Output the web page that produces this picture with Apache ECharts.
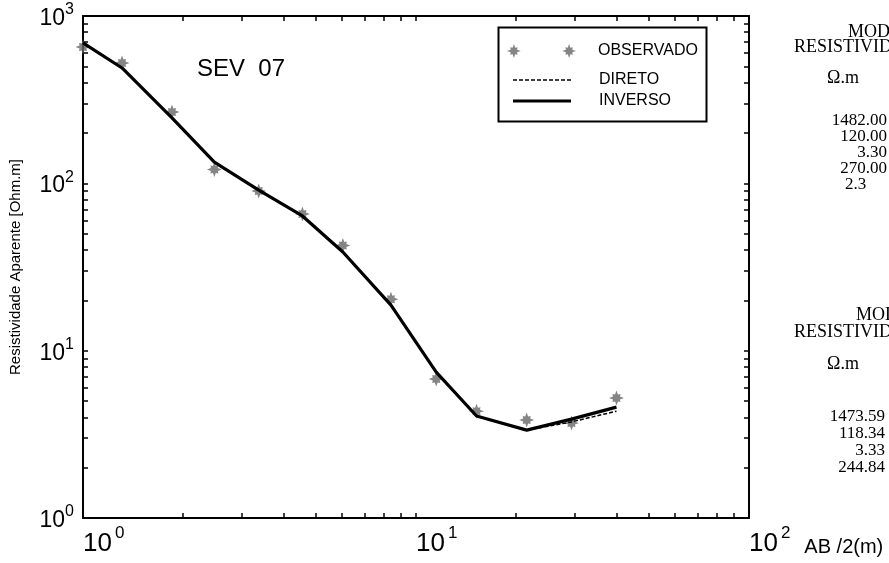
<!DOCTYPE html>
<html><head><meta charset="utf-8">
<script src="https://cdn.jsdelivr.net/npm/echarts@6/dist/echarts.min.js"></script>
<style>html,body{margin:0;padding:0;background:#fff}#c{width:889px;height:563px}</style>
</head><body><div id="c"></div>
<script>
const abHalf    = [1, 1.31, 1.85, 2.48, 3.37, 4.56, 6.03, 8.41, 11.5, 15.2, 21.5, 29.3, 40];
const observado = [653, 524, 267, 121, 90, 65.6, 42.5, 20.3, 6.77, 4.35, 3.85, 3.69, 5.21];
const direto    = [690, 489, 246, 134, 91, 63.8, 38.9, 18.7, 7.45, 4.07, 3.35, 3.75, 4.35];
const inverso   = [690, 489, 246, 134, 91, 63.8, 38.9, 18.7, 7.45, 4.07, 3.35, 3.9, 4.6];
const xTickValues = [1,2,3,4,5,6,7,8,9,10,20,30,40,50,60,70,80,90,100];
const yTickValues = [1,2,3,4,5,6,7,8,9,10,20,30,40,50,60,70,80,90,100,200,300,400,500,600,700,800,900,1000];
const modelHead = ['MODELO', 'RESISTIVIDADE', 'Ω.m'];
const model1 = ['1482.00', '120.00', '3.30', '270.00'];
const model1Last = '2.3';
const model2 = ['1473.59', '118.34', '3.33', '244.84'];

const SANS = '"Liberation Sans", Arial, sans-serif';
const SERIF = '"Liberation Serif", "Times New Roman", serif';

const starPts = [[20,10],[14.62,11.91],[15.3,15.3],[11.91,14.62],[10,20],[8.09,14.62],[4.7,15.3],[5.38,11.91],[0,10],[5.38,8.09],[4.7,4.7],[8.09,5.38],[10,0],[11.91,5.38],[15.3,4.7],[14.62,8.09]];
const starPath = dx => 'M' + starPts.map(p => (p[0] + dx).toFixed(2) + ' ' + p[1]).join(' L') + ' Z';
const star = 'path://' + starPath(0);
const starPair = 'path://' + starPath(0) + ' ' + starPath(80);
const solidIcon = 'path://M0 0 L58 0 L58 3 L0 3 Z';
let dashStr = '';
for (let i = 0; i < 10; i++) { const x0 = i * 6; dashStr += 'M' + x0 + ' 0 L' + (x0 + 4) + ' 0 L' + (x0 + 4) + ' 1.5 L' + x0 + ' 1.5 Z '; }
const dashIcon = 'path://' + dashStr.trim();

const pair = (xs, ys) => xs.map((x, i) => [x, ys[i]]);
const expOf = v => Math.round(Math.log10(v));

const axisCommon = {
  type: 'log', logBase: 10,
  axisLine: {show: true, lineStyle: {color: '#000', width: 2}},
  splitLine: {show: false},
  minorTick: {show: false}
};

const graphics = [
  {type: 'rect', left: 496, top: 25, shape: {width: 208, height: 94}, style: {fill: 'none', stroke: '#000', lineWidth: 2}, z: 1},
  {type: 'text', left: 197, top: 57, style: {text: 'SEV  07', font: '24px ' + SANS, fill: '#000'}}
];
const headY1 = [32, 47, 78];
const headX = [848, 794, 827];
modelHead.forEach((t, i) => graphics.push({type: 'text', x: headX[i], y: headY1[i], style: {text: t, font: '18px ' + SERIF, fill: '#000', textVerticalAlign: 'middle'}}));
model1.forEach((t, i) => graphics.push({type: 'text', x: 887, y: 121 + i * 16, style: {text: t, font: '17px ' + SERIF, fill: '#000', textAlign: 'right', textVerticalAlign: 'middle'}}));
graphics.push({type: 'text', x: 845, y: 185, style: {text: model1Last, font: '17px ' + SERIF, fill: '#000', textVerticalAlign: 'middle'}});
const headY2 = [315, 332, 364];
const headX2 = [856, 794, 827];
modelHead.forEach((t, i) => graphics.push({type: 'text', x: headX2[i], y: headY2[i], style: {text: t, font: '18px ' + SERIF, fill: '#000', textVerticalAlign: 'middle'}}));
model2.forEach((t, i) => graphics.push({type: 'text', x: 885, y: 417 + i * 17, style: {text: t, font: '17px ' + SERIF, fill: '#000', textAlign: 'right', textVerticalAlign: 'middle'}}));

const legendText = pad => ({fontSize: 16, fontFamily: SANS, color: '#000', padding: [0, 0, 0, pad]});

const chart = echarts.init(document.getElementById('c'), null, {renderer: 'canvas'});
chart.setOption({
  backgroundColor: '#fff',
  animation: false,
  grid: {left: 83, right: 140, top: 16, bottom: 45, containLabel: false},
  xAxis: [
    Object.assign({}, axisCommon, {
      position: 'bottom', min: 1, max: 100,
      axisTick: {show: true, inside: true, length: 5, customValues: xTickValues, lineStyle: {color: '#000', width: 1.5}},
      axisLabel: {
        show: true, margin: 7, align: 'left', customValues: [1, 10, 100],
        formatter: v => '{b|10}{s|' + expOf(v) + '}' + (expOf(v) === 2 ? '{n|AB /2(m)}' : ''),
        rich: {
          b: {fontSize: 26, fontFamily: SANS, color: '#000', lineHeight: 32, verticalAlign: 'bottom'},
          s: {fontSize: 17, fontFamily: SANS, color: '#000', lineHeight: 32, verticalAlign: 'top', padding: [0, 0, 0, 3]},
          n: {fontSize: 20, fontFamily: SANS, color: '#000', lineHeight: 32, verticalAlign: 'bottom', padding: [0, 0, 0, 14]}
        }
      }
    }),
    Object.assign({}, axisCommon, {
      position: 'top', min: 1, max: 100,
      axisTick: {show: true, inside: true, length: 5, customValues: xTickValues, lineStyle: {color: '#000', width: 1.5}},
      axisLabel: {show: false}
    })
  ],
  yAxis: [
    Object.assign({}, axisCommon, {
      position: 'left', min: 1, max: 1000,
      name: 'Resistividade Aparente [Ohm.m]', nameLocation: 'middle', nameGap: 60,
      nameTextStyle: {fontSize: 15, fontFamily: SANS, color: '#000'},
      axisTick: {show: true, inside: true, length: 5, customValues: yTickValues, lineStyle: {color: '#000', width: 1.5}},
      axisLabel: {
        show: true, margin: 9, customValues: [1, 10, 100, 1000],
        formatter: v => '{b|10}{s|' + expOf(v) + '}',
        rich: {
          b: {fontSize: 23, fontFamily: SANS, color: '#000', lineHeight: 28, verticalAlign: 'bottom'},
          s: {fontSize: 16, fontFamily: SANS, color: '#000', lineHeight: 28, verticalAlign: 'top'}
        }
      }
    }),
    Object.assign({}, axisCommon, {
      position: 'right', min: 1, max: 1000,
      axisTick: {show: true, inside: true, length: 5, customValues: yTickValues, lineStyle: {color: '#000', width: 1.5}},
      axisLabel: {show: false}
    })
  ],
  legend: [
    {
      data: [{name: 'OBSERVADO', icon: starPair}],
      left: 502, top: 38, itemWidth: 69, itemHeight: 14, selectedMode: false,
      textStyle: legendText(17)
    },
    {
      data: [{name: 'DIRETO', icon: dashIcon}],
      left: 508, top: 67, itemWidth: 58, itemHeight: 1.5, selectedMode: false,
      textStyle: legendText(23)
    },
    {
      data: [{name: 'INVERSO', icon: solidIcon}],
      left: 508, top: 88, itemWidth: 58, itemHeight: 3, selectedMode: false,
      textStyle: legendText(23)
    }
  ],
  graphic: graphics,
  series: [
    {
      name: 'OBSERVADO', type: 'scatter', xAxisIndex: 0, yAxisIndex: 0,
      data: pair(abHalf, observado), symbol: star, symbolSize: 15,
      itemStyle: {color: '#666'}, z: 2
    },
    {
      name: 'DIRETO', type: 'line', xAxisIndex: 0, yAxisIndex: 0,
      data: pair(abHalf, direto), showSymbol: false, symbol: 'none',
      lineStyle: {color: '#000', width: 1.5, type: [4, 2]}, itemStyle: {color: '#000'}, z: 3
    },
    {
      name: 'INVERSO', type: 'line', xAxisIndex: 0, yAxisIndex: 0,
      data: pair(abHalf, inverso), showSymbol: false, symbol: 'none',
      lineStyle: {color: '#000', width: 3.2}, itemStyle: {color: '#000'}, z: 4
    }
  ]
});
</script></body></html>
